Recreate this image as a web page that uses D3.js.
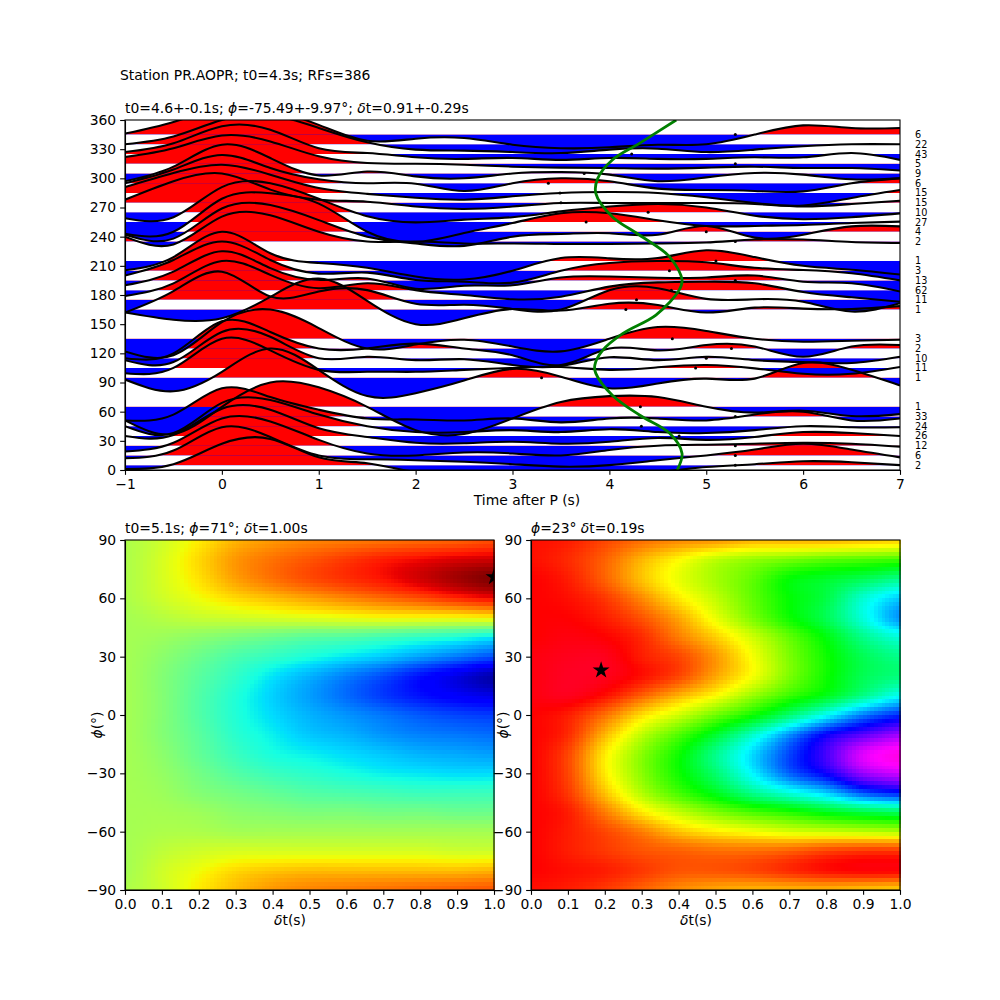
<!DOCTYPE html>
<html>
<head>
<meta charset="utf-8">
<script src="https://cdn.jsdelivr.net/npm/d3@7"></script>
<style>
body { margin: 0; background: #fff; }
text { font-family: "DejaVu Sans"; fill: #000; }
.tick text { font-size: 13.9px; }
.tick line, .domain { stroke: #000; stroke-width: 1.1px; }
</style>
</head>
<body>
<svg id="fig" width="1000" height="1000"></svg>
<script>
// sample times of the traces, seconds after P
const timeKnots = [-1, -0.5, 0, 0.5, 1, 1.5, 2, 2.5, 3, 3.5, 4, 4.5, 5, 5.5, 6, 6.5, 7];
const binCentres = [5, 15, 25, 35, 45, 55, 65, 95, 105, 115, 125, 135, 165, 175, 185, 195, 205, 215, 235, 245, 255, 265, 275, 285, 295, 305, 315, 325, 335, 345];
const rfCounts = [2, 6, 12, 26, 24, 33, 1, 1, 11, 10, 2, 3, 1, 11, 62, 13, 3, 1, 2, 4, 27, 10, 15, 15, 6, 9, 5, 43, 22, 6];
const pickTimes = [5.3, 5.3, 5.3, 4.72, 4.33, 5.3, 4.32, 3.3, 4.89, 5.0, 5.26, 4.65, 4.17, 4.28, 4.64, 5.3, 4.62, 5.1, 5.3, 5.0, 3.76, 4.4, 3.5, 3.49, 3.37, 3.74, 5.3, 4.23, 4.3, 5.3];

const trace5 = [1, 6, 27, 32, 13, 7, -2, -4, -5, -6, -5, -2, 3, 6, 9, 8, 5];
const trace15 = [12, 20, 44, 34, 15, 11, 10, 8.5, 6, 3.5, 5, 10, 15, 21, 27, 21, 13];
const trace25 = [19, 28, 53, 50, 31, 17, 15, 18, 17, 15, 20.6, 25, 26, 27, 28, 27, 24];
const trace35 = [35, 36, 63, 62, 43, 34, 28, 27.5, 29, 27, 29, 33, 31, 34, 39, 38, 35];
const trace45 = [45, 38, 69, 72, 57, 45, 39, 39, 41, 39, 42, 39, 38, 41, 45, 44, 44];
const trace55 = [51, 57, 84, 75, 62, 53, 52, 51, 53, 49, 53, 53, 51, 57, 60, 51, 53];
const trace65 = [51, 37, 65, 90, 85, 65, 41, 37, 53, 70, 76, 75, 65, 59, 61, 55.5, 57.5];
const trace95 = [93, 81, 101, 125, 103, 76, 79, 92, 104, 96, 84, 89, 94, 94, 110, 103, 87];
const trace105 = [99.5, 105, 135, 123, 103, 101, 101, 103, 105, 106, 103, 105.6, 108, 104.5, 99, 99, 106];
const trace115 = [113, 111, 142, 137, 115, 116.5, 113, 114, 108, 107, 116, 113, 116.5, 113, 111, 110, 116.5];
const trace125 = [115, 120, 153, 142, 125, 125, 130, 125, 118, 108, 125, 123, 128.5, 127, 116.5, 127, 128.5];
const trace135 = [122, 118, 152, 165, 146, 125, 129, 134, 127, 122, 135, 147, 143, 135, 132, 133, 134];
const trace165 = [162, 154.5, 156, 178, 197, 174, 150, 156, 165.6, 164, 171, 169.7, 162, 167, 166, 165.6, 168.6];
const trace175 = [162, 184, 204, 178.5, 183.6, 185, 171, 170, 165.6, 165, 185, 187, 176, 175.6, 173, 163, 171.5];
const trace185 = [179, 192, 215, 200.7, 187, 192, 185, 180, 175.6, 178.3, 188.6, 193, 193.7, 192, 183, 177.6, 173];
const trace195 = [190, 204, 225, 207.6, 195.6, 197, 186.5, 189.6, 190, 198, 199, 197.8, 198, 200, 193.7, 192, 183.5];
const trace205 = [200, 216, 235, 216, 202, 203, 195.5, 193.7, 192.7, 205, 213, 215, 213.6, 208, 205.7, 202.3, 195];
const trace215 = [205.5, 219, 245, 223, 213, 208, 199, 196, 205, 218, 217.7, 218, 226, 219, 210, 206, 201];
const trace235 = [240, 232, 260.6, 262, 245, 235, 235, 233, 233, 232.5, 232.5, 233, 234, 237, 237, 234.5, 233.5];
const trace245 = [242, 238, 269, 272.5, 257, 240, 233, 230.5, 240, 242.8, 243.5, 242, 251, 239, 242, 250.6, 250.6];
const trace255 = [243, 245, 279, 284.6, 274, 245, 234.5, 243.8, 254, 264, 264, 256.8, 251, 251, 252, 254, 255.5];
const trace265 = [259, 260, 291, 295, 279, 261, 254.7, 257.5, 260, 266, 271, 273.6, 270, 261.6, 258, 260, 264];
const trace275 = [278, 297, 305, 288.4, 278, 276, 271, 268.5, 271, 274.6, 274.6, 274.6, 274.6, 273.6, 271, 273.6, 277];
const trace285 = [291, 305.5, 314, 303.8, 290, 284, 280, 278, 281.5, 285, 286, 285, 280.5, 274.6, 272, 279.8, 288];
const trace295 = [295, 309, 324, 310.6, 299, 295, 294.5, 287, 295, 300, 297, 289.4, 288, 287, 286.6, 295, 300];
const trace305 = [297, 312, 334.6, 320.9, 303, 307, 302, 300, 305, 306.5, 303.8, 297, 301, 305.5, 303.8, 299, 300];
const trace315 = [322, 331, 344, 338, 322.6, 315.8, 315, 314, 312, 311, 310.6, 310, 311, 312, 310.6, 310.6, 308];
const trace325 = [327, 336, 353.5, 350, 331, 326, 321.6, 320, 321, 319, 321, 320, 320, 321.6, 321.6, 326, 319];
const trace335 = [335, 343, 360, 365, 351.8, 337, 329.5, 328.5, 327, 326, 329.5, 330.5, 327, 329.5, 333, 335, 335];
const trace345 = [346, 358, 372, 370, 355, 338.7, 340.8, 341.5, 334.6, 331, 331.9, 334.6, 335, 345, 354.5, 351.8, 351.8];
const traces = [trace5, trace15, trace25, trace35, trace45, trace55, trace65, trace95, trace105, trace115, trace125, trace135, trace165, trace175, trace185, trace195, trace205, trace215, trace235, trace245, trace255, trace265, trace275, trace285, trace295, trace305, trace315, trace325, trace335, trace345];

// green t0 curve
const modelAz = [0, 17, 38, 56.6, 77, 99.4, 108, 123, 140.5, 159.4, 185, 195.4, 219.5, 241.7, 260.6, 284.6, 300, 318.9, 336, 360];
const modelT = [4.7, 4.75, 4.62, 4.31, 4.03, 3.86, 3.85, 3.93, 4.14, 4.48, 4.72, 4.75, 4.62, 4.31, 4.03, 3.86, 3.88, 4.03, 4.31, 4.69];

// heatmap grids, read at every 0.1 s of delay and 10 deg of azimuth
const delayKnots = [0, 0.1, 0.2, 0.3, 0.4, 0.5, 0.6, 0.7, 0.8, 0.9, 1];
const phiKnots = [90, 80, 70, 60, 50, 40, 30, 20, 10, 0, -10, -20, -30, -40, -50, -60, -70, -80, -90];
const jetGrid = [
  [.56,.60,.66,.72,.75,.77,.78,.79,.80,.81,.83],
  [.56,.61,.68,.75,.79,.82,.85,.88,.90,.92,.93],
  [.56,.61,.67,.74,.79,.83,.86,.89,.93,.97,1.0],
  [.56,.60,.64,.68,.71,.74,.77,.80,.83,.87,.90],
  [.55,.57,.59,.60,.61,.62,.63,.64,.64,.64,.65],
  [.55,.54,.52,.50,.48,.46,.45,.43,.41,.39,.36],
  [.55,.52,.48,.44,.41,.38,.35,.32,.28,.24,.20],
  [.55,.51,.46,.41,.35,.30,.25,.20,.14,.09,.04],
  [.55,.51,.45,.39,.33,.28,.23,.18,.14,.11,.09],
  [.55,.51,.45,.39,.34,.30,.27,.24,.21,.19,.18],
  [.55,.51,.46,.40,.36,.32,.30,.27,.25,.24,.23],
  [.55,.52,.47,.42,.38,.36,.34,.32,.30,.29,.28],
  [.55,.53,.49,.45,.42,.40,.38,.36,.35,.34,.34],
  [.55,.54,.51,.49,.47,.45,.44,.43,.42,.42,.42],
  [.55,.55,.54,.52,.51,.50,.50,.49,.49,.48,.48],
  [.55,.56,.56,.55,.55,.55,.55,.55,.55,.55,.55],
  [.55,.58,.60,.61,.61,.61,.61,.61,.61,.60,.60],
  [.55,.60,.64,.68,.70,.71,.71,.71,.71,.71,.72],
  [.56,.60,.66,.71,.75,.77,.78,.79,.80,.81,.82]
];
const rainbowGrid = [
  [.04,.05,.08,.11,.13,.14,.16,.16,.16,.17,.18],
  [.04,.06,.10,.16,.21,.26,.29,.31,.33,.34,.35],
  [.03,.05,.10,.17,.23,.28,.33,.40,.43,.46,.50],
  [.03,.04,.07,.13,.20,.26,.33,.40,.45,.55,.62],
  [.03,.03,.05,.09,.15,.23,.31,.39,.46,.56,.66],
  [.03,.02,.03,.06,.12,.18,.25,.33,.41,.50,.56],
  [.02,.01,.01,.05,.08,.14,.22,.31,.39,.46,.50],
  [.02,.005,.01,.04,.08,.15,.22,.31,.39,.46,.49],
  [.02,.01,.04,.10,.16,.215,.29,.36,.42,.50,.58],
  [.03,.05,.11,.19,.25,.32,.39,.48,.58,.68,.74],
  [.03,.06,.16,.26,.34,.43,.54,.66,.77,.83,.88],
  [.03,.08,.20,.30,.39,.50,.61,.72,.82,.93,.97],
  [.03,.08,.20,.30,.39,.48,.59,.70,.78,.88,.92],
  [.03,.07,.17,.27,.35,.42,.50,.56,.62,.71,.75],
  [.03,.05,.12,.20,.26,.31,.35,.38,.42,.45,.47],
  [.03,.05,.08,.12,.17,.20,.22,.24,.25,.26,.27],
  [.03,.05,.07,.09,.10,.11,.11,.10,.08,.07,.07],
  [.03,.04,.05,.07,.09,.09,.08,.06,.04,.03,.03],
  [.04,.05,.07,.10,.13,.15,.16,.16,.16,.17,.18]
];

const mainTicksX = [-1, 0, 1, 2, 3, 4, 5, 6, 7];
const mainTicksY = [0, 30, 60, 90, 120, 150, 180, 210, 240, 270, 300, 330, 360];
const delayTicks = [0, 0.1, 0.2, 0.3, 0.4, 0.5, 0.6, 0.7, 0.8, 0.9, 1];
const phiTicks = [-90, -60, -30, 0, 30, 60, 90];

const svg = d3.select('#fig');
const tickLen = 4.86;

// ---------- top panel ----------
const x = d3.scaleLinear().domain([-1, 7]).range([125, 900]);
const y = d3.scaleLinear().domain([0, 360]).range([470, 120]);

const defs = svg.append('defs');
defs.append('clipPath').attr('id', 'mainClip').append('rect')
    .attr('x', 125).attr('y', 120).attr('width', 775).attr('height', 350);

const fills = svg.append('g').attr('clip-path', 'url(#mainClip)');
const lines = svg.append('g').attr('clip-path', 'url(#mainClip)');

traces.forEach((vals, i) => {
    const base = binCentres[i];
    const pts = vals.map((v, j) => [timeKnots[j], v]);
    const area = d3.area().curve(d3.curveNatural)
        .x(d => x(d[0])).y0(y(base)).y1(d => y(d[1]));

    // red above the bin centre, blue below
    defs.append('clipPath').attr('id', `up${i}`).append('rect')
        .attr('x', 125).attr('y', 0).attr('width', 775).attr('height', y(base));
    defs.append('clipPath').attr('id', `down${i}`).append('rect')
        .attr('x', 125).attr('y', y(base)).attr('width', 775).attr('height', 1000);

    fills.append('path').attr('d', area(pts)).attr('fill', '#ff0000').attr('clip-path', `url(#up${i})`);
    fills.append('path').attr('d', area(pts)).attr('fill', '#0000ff').attr('clip-path', `url(#down${i})`);

    const line = d3.line().curve(d3.curveNatural).x(d => x(d[0])).y(d => y(d[1]));
    lines.append('path').attr('d', line(pts))
        .attr('fill', 'none').attr('stroke', '#000').attr('stroke-width', 2.08);
});

svg.append('g').selectAll('circle').data(binCentres).join('circle')
    .attr('cx', (d, i) => x(pickTimes[i])).attr('cy', d => y(d)).attr('r', 1.5).attr('fill', '#000');

const modelLine = d3.line().curve(d3.curveCatmullRom).x((d, i) => x(modelT[i])).y(d => y(d));
svg.append('path').attr('d', modelLine(modelAz)).attr('clip-path', 'url(#mainClip)')
    .attr('fill', 'none').attr('stroke', '#008000').attr('stroke-width', 2.8);

svg.append('g').selectAll('text').data(binCentres).join('text')
    .attr('x', 915).attr('y', d => y(d) + 3.5).attr('font-size', 9.7).text((d, i) => rfCounts[i]);

drawFrame(x, y, mainTicksX, mainTicksY, d => d3.format('d')(d));

svg.append('text').attr('x', 120).attr('y', 80).attr('font-size', 13.9).text('Station PR.AOPR; t0=4.3s; RFs=386');
title(125, 113, [['t0=4.6+-0.1s; '], ['ϕ', 1], ['=-75.49+-9.97°; '], ['δ', 1], ['t=0.91+-0.29s']]);
svg.append('text').attr('x', 527).attr('y', 505).attr('font-size', 13.9).attr('text-anchor', 'middle').text('Time after P (s)');

// ---------- heatmaps ----------
const jetR = d3.scaleLinear().domain([0, .35, .66, .89, 1]).range([0, 0, 1, 1, .5]).clamp(true);
const jetG = d3.scaleLinear().domain([0, .125, .375, .64, .91, 1]).range([0, 0, 1, 1, 0, 0]).clamp(true);
const jetB = d3.scaleLinear().domain([0, .11, .34, .65, 1]).range([.5, 1, 1, 0, 0]).clamp(true);
const jet = v => d3.rgb(jetR(v) * 255, jetG(v) * 255, jetB(v) * 255).toString();

const rainbowStops = [0, .03, .215, .4, .586, .77, .954, 1];
const rainbowColors = ['#ff0029', '#ff0000', '#ffff00', '#00ff00', '#00ffff', '#0000ff', '#ff00ff', '#ff00bf'];
const rainbow = d3.scaleLinear().domain(rainbowStops).range(rainbowColors).clamp(true);

// display smoothing between the read grid nodes, like the fine mesh of the original
function cr(p0, p1, p2, p3, u) {
    return 0.5 * (2 * p1 + (p2 - p0) * u + (2 * p0 - 5 * p1 + 4 * p2 - p3) * u * u + (3 * p1 - p0 - 3 * p2 + p3) * u * u * u);
}
function sampleGrid(grid, d, phi) {
    const fx = d * 10, fy = (90 - phi) / 10;
    const ix = Math.min(9, Math.floor(fx)), iy = Math.min(17, Math.floor(fy));
    const row = r => {
        const g = grid[Math.max(0, Math.min(18, r))];
        return cr(g[Math.max(0, ix - 1)], g[ix], g[ix + 1], g[Math.min(10, ix + 2)], fx - ix);
    };
    return cr(row(iy - 1), row(iy), row(iy + 1), row(iy + 2), fy - iy);
}

const cellsX = d3.range(100), cellsY = d3.range(90);
const cellData = cellsY.flatMap(j => cellsX.map(i => ({ i, j })));

function heatmap(left, grid, color, star, titleParts, id) {
    const hx = d3.scaleLinear().domain([0, 1]).range([left, left + 369]);
    const hy = d3.scaleLinear().domain([-90, 90]).range([890, 540]);
    const cw = 3.69, ch = 350 / 90;
    svg.append('g').attr('shape-rendering', 'crispEdges').selectAll('rect').data(cellData).join('rect')
        .attr('x', d => hx(d.i / 100)).attr('y', d => hy(90 - d.j * 2))
        .attr('width', cw + 0.5).attr('height', ch + 0.5)
        .attr('fill', d => color(sampleGrid(grid, (d.i + 0.5) / 100, 90 - (d.j + 0.5) * 2)));

    defs.append('clipPath').attr('id', id).append('rect')
        .attr('x', left).attr('y', 540).attr('width', 369).attr('height', 350);
    svg.append('g').attr('clip-path', `url(#${id})`).append('path')
        .attr('d', d3.symbol(d3.symbolStar, 90)())
        .attr('transform', `translate(${hx(star[0])},${hy(star[1])})`).attr('fill', '#000');

    drawFrame(hx, hy, delayTicks, phiTicks, d3.format('.1f'), d => d3.format('d')(d));
    title(left, 533, titleParts);

    const lab = svg.append('text').attr('x', left + 165).attr('y', 925).attr('font-size', 13.9).attr('text-anchor', 'middle');
    lab.append('tspan').attr('font-style', 'italic').text('δ');
    lab.append('tspan').text('t(s)');
    const ylab = svg.append('text').attr('transform', `translate(${left - 23},725) rotate(-90)`)
        .attr('font-size', 13.9).attr('text-anchor', 'middle');
    ylab.append('tspan').attr('font-style', 'italic').text('ϕ');
    ylab.append('tspan').text('(°)');
}

heatmap(125, jetGrid, jet, [1.0, 71], [['t0=5.1s; '], ['ϕ', 1], ['=71°; '], ['δ', 1], ['t=1.00s']], 'clipL');
heatmap(531, rainbowGrid, rainbow, [0.19, 23], [['ϕ', 1], ['=23° '], ['δ', 1], ['t=0.19s']], 'clipR');

function title(px, py, parts) {
    const t = svg.append('text').attr('x', px).attr('y', py).attr('font-size', 13.9);
    parts.forEach(p => {
        const s = t.append('tspan').text(p[0]);
        if (p[1]) s.attr('font-style', 'italic');
    });
}

function drawFrame(sx, sy, xt, yt, xf, yf) {
    const [x0, x1] = sx.range(), [y0, y1] = sy.range();
    svg.append('g').attr('transform', `translate(0,${y0})`)
        .call(d3.axisBottom(sx).tickValues(xt).tickFormat(xf).tickSize(tickLen).tickSizeOuter(0).tickPadding(4));
    svg.append('g').attr('transform', `translate(${x0},0)`)
        .call(d3.axisLeft(sy).tickValues(yt).tickFormat(yf || xf).tickSize(tickLen).tickSizeOuter(0).tickPadding(4));
    svg.append('rect').attr('x', x0).attr('y', y1).attr('width', x1 - x0).attr('height', y0 - y1)
        .attr('fill', 'none').attr('stroke', '#000').attr('stroke-width', 1.1);
    svg.selectAll('.tick text').attr('font-family', 'DejaVu Sans');
}
</script>
</body>
</html>
